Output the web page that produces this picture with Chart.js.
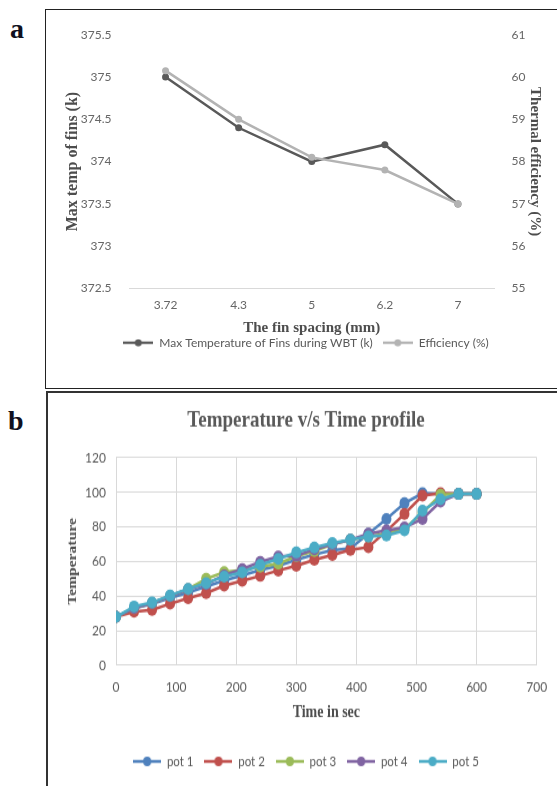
<!DOCTYPE html>
<html>
<head>
<meta charset="utf-8">
<script src="https://cdn.jsdelivr.net/npm/chart.js@4.4.1/dist/chart.umd.min.js"></script>
<style>
  html, body { margin: 0; padding: 0; background: #fff; }
  body { width: 557px; height: 786px; position: relative; overflow: hidden; }
  .box { position: absolute; box-sizing: border-box; }
  #boxA { left: 45px; top: 9px; width: 620px; height: 380px; border: 1.5px solid #222; }
  #boxB { left: 46px; top: 391px; width: 620px; height: 500px; border-left: 2px solid #333; border-top: 2px solid #333; }
  .tag { position: absolute; font: bold 28px "Liberation Serif", "Times New Roman", serif; line-height: 28px; color: #101020; }
  #wrapA { position: absolute; left: 46px; top: 10px; width: 520px; height: 378px; }
  #wrapB { position: absolute; left: 47px; top: 393px; width: 518px; height: 328px; transform: scaleY(1.2); transform-origin: 0 0; }
</style>
</head>
<body>
<div class="box" id="boxA"></div>
<div class="box" id="boxB"></div>
<div class="tag" style="left:10px; top:15px;">a</div>
<div class="tag" style="left:8px; top:407px;">b</div>
<div id="wrapA"><canvas id="chartA" width="520" height="378"></canvas></div>
<div id="wrapB"><canvas id="chartB" width="518" height="328"></canvas></div>
<script>
// panel a - fin spacing
const finSpacing = ['3.72', '4.3', '5', '6.2', '7'];
const maxTempK = [375, 374.4, 374, 374.2, 373.5];
const efficiencyPct = [60.15, 59, 58.1, 57.8, 57];

// panel b - temperature vs time
const timeSec = [0, 30, 60, 90, 120, 150, 180, 210, 240, 270, 300, 330, 360, 390, 420, 450, 480, 510, 540, 570, 600];
const pot1 = [28, 33, 35.5, 39, 42, 45.5, 49, 52, 55, 57.5, 61, 64, 66.5, 67.5, 76, 84.5, 93.7, 99.4, 99, 99, 99];
const pot2 = [28, 31, 32, 35.6, 38.8, 41.7, 46, 48.8, 51.7, 54.8, 57.5, 61, 63.7, 66.7, 68.3, 77.5, 87.5, 98, 99.4, 99, 99];
const pot3 = [28, 33, 36, 40, 44, 50, 53.8, 55, 57, 58.7, 63, 66, 70, 72.5, 74.5, 76, 79, 88, 98.5, 99, 99];
const pot4 = [28, 33, 36, 40, 44, 47, 52, 55.6, 59.8, 62.9, 63.3, 67, 70, 72.5, 76, 77.9, 79.6, 84.6, 94.6, 99, 99];
const pot5 = [28, 34, 36.3, 40.4, 44.2, 47.5, 51.3, 53.7, 58, 61.5, 65.2, 68, 70.6, 72.5, 74.4, 75, 77.9, 89.4, 96, 99, 99];

const potNames = ['pot 1', 'pot 2', 'pot 3', 'pot 4', 'pot 5'];
const potColors = ['#4F81BD', '#C0504D', '#9BBB59', '#8064A2', '#4BACC6'];

const tickFont = { family: 'Lato', size: 12 };
const serifBold = (size) => ({ family: '"Liberation Serif", "Times New Roman", serif', size: size, weight: 'bold' });

// small line-with-dot marker like the excel legend
function makeMarker(color, w, h, r) {
    const c = document.createElement('canvas');
    c.width = w; c.height = h;
    const ctx = c.getContext('2d');
    ctx.strokeStyle = color;
    ctx.lineWidth = 2.5;
    ctx.beginPath();
    ctx.moveTo(0, h / 2);
    ctx.lineTo(w, h / 2);
    ctx.stroke();
    ctx.fillStyle = color;
    ctx.beginPath();
    ctx.arc(w / 2, h / 2, r, 0, Math.PI * 2);
    ctx.fill();
    return c;
}

function legendWithMarkers(w, h, r) {
    return function(chart) {
        const items = Chart.defaults.plugins.legend.labels.generateLabels(chart);
        items.forEach(item => {
            item.pointStyle = makeMarker(item.strokeStyle, w, h, r);
        });
        return items;
    };
}

new Chart(document.getElementById('chartA'), {
    type: 'line',
    data: {
        labels: finSpacing,
        datasets: [
            {
                label: 'Max Temperature of Fins during WBT (k)',
                data: maxTempK,
                yAxisID: 'yL',
                borderColor: '#595959',
                backgroundColor: '#595959',
                borderWidth: 2.5,
                pointRadius: 3.5,
                pointBorderWidth: 0,
                order: 2
            },
            {
                label: 'Efficiency (%)',
                data: efficiencyPct,
                yAxisID: 'yR',
                borderColor: '#b3b3b3',
                backgroundColor: '#b3b3b3',
                borderWidth: 2.5,
                pointRadius: 3.5,
                pointBorderWidth: 0,
                order: 1
            }
        ]
    },
    options: {
        responsive: false,
        animation: false,
        layout: { padding: { top: 14.3, bottom: 29.3, left: 0, right: 0 } },
        plugins: {
            tooltip: { enabled: false },
            legend: {
                position: 'bottom',
                labels: {
                    usePointStyle: true,
                    pointStyleWidth: 30,
                    padding: 10,
                    color: '#595959',
                    font: { family: 'Lato', size: 12 },
                    generateLabels: legendWithMarkers(30, 8, 3.5),
                    sort: (a, b) => a.datasetIndex - b.datasetIndex
                }
            }
        },
        scales: {
            x: {
                offset: true,
                grid: { display: false, drawTicks: false },
                border: { display: true, color: '#d9d9d9', width: 1 },
                ticks: { color: '#666', font: tickFont, padding: 9 },
                title: { display: true, text: 'The fin spacing (mm)', color: '#4d4d4d', font: serifBold(15), padding: { top: 0, bottom: -10.3 } },
                afterFit: (s) => { s.height = 38.2; }
            },
            yL: {
                position: 'left',
                min: 372.5,
                max: 375.5,
                grid: { display: false, drawTicks: false },
                border: { display: false },
                ticks: { stepSize: 0.5, color: '#666', font: tickFont, padding: 17.5, callback: (v) => String(v) },
                title: { display: true, text: 'Max temp of fins (k)', color: '#4d4d4d', font: serifBold(16), padding: { top: 17.4, bottom: 0 } },
                afterFit: (s) => { s.width = 83; }
            },
            yR: {
                position: 'right',
                min: 55,
                max: 61,
                grid: { display: false, drawTicks: false },
                border: { display: false },
                ticks: { stepSize: 1, color: '#666', font: tickFont, padding: 17, callback: (v) => String(v) },
                title: { display: true, text: 'Thermal efficiency (%)', color: '#4d4d4d', font: serifBold(15), padding: { top: 22.4, bottom: 0 } },
                afterFit: (s) => { s.width = 71.5; }
            }
        }
    }
});

const potSeries = [pot1, pot2, pot3, pot4, pot5];
const potDatasets = potSeries.map((vals, k) => ({
    label: potNames[k],
    data: timeSec.map((t, i) => ({ x: t, y: vals[i] })),
    borderColor: potColors[k],
    backgroundColor: potColors[k],
    borderWidth: 2.5,
    pointRadius: 5,
    pointBorderWidth: 0,
    order: 5 - k
}));

new Chart(document.getElementById('chartB'), {
    type: 'line',
    data: { datasets: potDatasets },
    options: {
        responsive: false,
        animation: false,
        layout: { padding: { top: 0, bottom: 5.25, left: 0, right: 0 } },
        plugins: {
            tooltip: { enabled: false },
            title: {
                display: true,
                text: 'Temperature v/s Time profile',
                color: '#595959',
                font: serifBold(19),
                padding: { top: 12, bottom: 19 }
            },
            legend: {
                position: 'bottom',
                labels: {
                    usePointStyle: true,
                    pointStyleWidth: 28,
                    padding: 11,
                    color: '#595959',
                    font: { family: 'Lato', size: 11.5 },
                    generateLabels: legendWithMarkers(28, 10, 4),
                    sort: (a, b) => a.datasetIndex - b.datasetIndex
                }
            }
        },
        scales: {
            x: {
                type: 'linear',
                min: 0,
                max: 700,
                grid: { color: '#d9d9d9', drawTicks: false },
                border: { color: '#d9d9d9' },
                ticks: { stepSize: 100, color: '#595959', font: tickFont, padding: 10.5 },
                title: { display: true, text: 'Time in sec', color: '#4d4d4d', font: serifBold(14), padding: { top: 0, bottom: 15.4 } },
                afterFit: (s) => { s.height = 63.3; }
            },
            y: {
                min: 0,
                max: 120,
                grid: { color: '#d9d9d9', drawTicks: false },
                border: { color: '#d9d9d9' },
                ticks: { stepSize: 20, color: '#595959', font: tickFont, padding: 10 },
                title: { display: true, text: 'Temperature', color: '#4d4d4d', font: serifBold(13), padding: { top: 18.2, bottom: 0 } },
                afterFit: (s) => { s.width = 69; }
            },
            yPad: {
                position: 'right',
                grid: { display: false, drawTicks: false },
                border: { display: false },
                ticks: { display: false },
                afterFit: (s) => { s.width = 28.3; }
            }
        }
    }
});
</script>
</body>
</html>
